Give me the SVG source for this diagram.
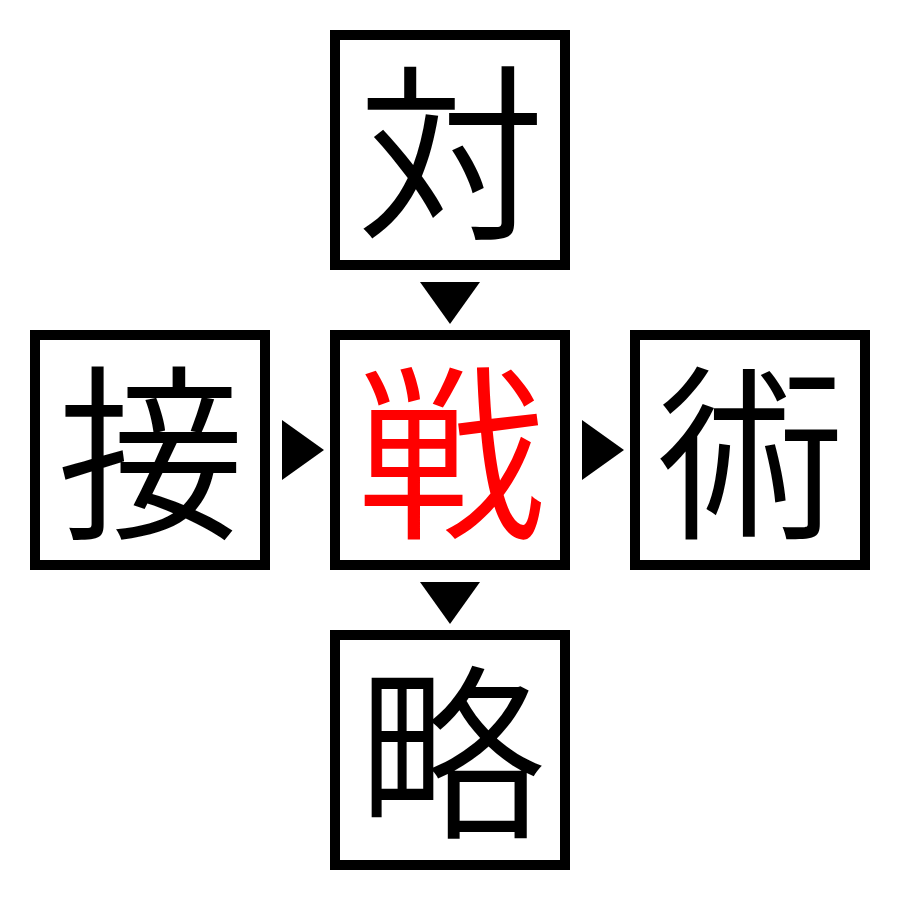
<svg xmlns="http://www.w3.org/2000/svg" width="900" height="900" viewBox="0 0 900 900">
<style>
.box{fill:#fff;stroke:#000;stroke-width:10}
.t{font-family:"Noto Sans CJK JP","Noto Sans CJK SC",sans-serif;font-size:188px;font-weight:350;text-anchor:middle;fill:#000}
.arr{fill:#000}
</style>
<rect width="900" height="900" fill="#fff"/>
<g id="node-tai"><rect class="box" x="335" y="35" width="230" height="230"/><text class="t" x="451" y="224">対</text></g>
<g id="node-setsu"><rect class="box" x="35" y="335" width="230" height="230"/><text class="t" x="151" y="524">接</text></g>
<g id="node-sen"><rect class="box" x="335" y="335" width="230" height="230"/><text class="t" x="451" y="524" style="fill:#ff0000">戦</text></g>
<g id="node-jutsu"><rect class="box" x="635" y="335" width="230" height="230"/><text class="t" x="751" y="524">術</text></g>
<g id="node-ryaku"><rect class="box" x="335" y="635" width="230" height="230"/><text class="t" x="451" y="824">略</text></g>
<g id="connectors">
<polygon class="arr" points="420,282 480,282 450,324"/>
<polygon class="arr" points="420,582 480,582 450,624"/>
<polygon class="arr" points="282,420 282,480 324,450"/>
<polygon class="arr" points="582,420 582,480 624,450"/>
</g>
</svg>
